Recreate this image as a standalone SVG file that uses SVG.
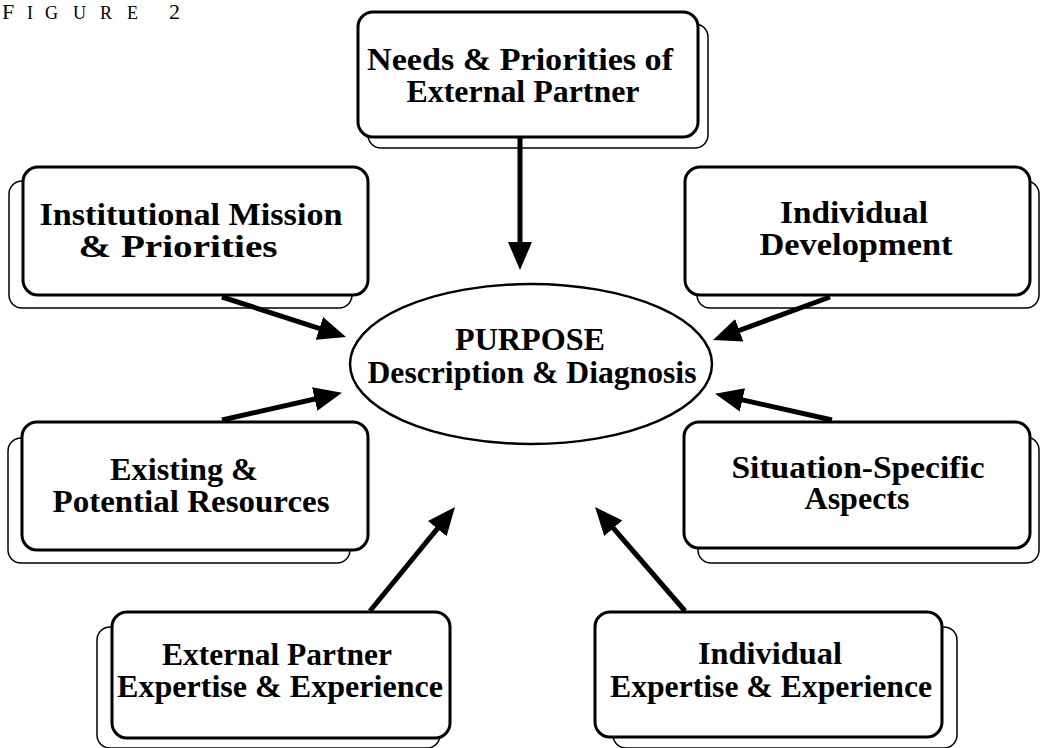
<svg xmlns="http://www.w3.org/2000/svg" width="1040" height="748" viewBox="0 0 1040 748">
<style>
.main{fill:#fff;stroke:#000;stroke-width:3}
.shadow{fill:#fff;stroke:#000;stroke-width:1.5}
.lbl{font-family:"Liberation Serif","Times New Roman",serif;font-weight:bold;font-size:32px;fill:#000;text-anchor:middle}
.elbl{font-size:31px}
.conn{stroke:#000;stroke-width:5;fill:none;marker-end:url(#ah)}
.fig{font-family:"Liberation Serif","Times New Roman",serif;fill:#000}
</style>
<defs>
<marker id="ah" markerUnits="userSpaceOnUse" markerWidth="28" markerHeight="24" refX="16" refY="12" orient="auto">
<path d="M0,0 L28,12 L0,24 Z" fill="#000"/>
</marker>
</defs>
<rect width="1040" height="748" fill="#fff"/>
<text class="fig" y="19"><tspan x="2" font-size="22">F</tspan><tspan x="27" font-size="18">I</tspan><tspan x="45" font-size="18">G</tspan><tspan x="73" font-size="18">U</tspan><tspan x="100" font-size="18">R</tspan><tspan x="127" font-size="18">E</tspan><tspan x="169" font-size="22">2</tspan></text>

<g id="node-needs">
<rect class="shadow" x="368" y="24" width="340" height="124" rx="13"/>
<rect class="main" x="358" y="12" width="340" height="125" rx="15"/>
<text class="lbl" x="520" y="70" textLength="306" lengthAdjust="spacingAndGlyphs">Needs &amp; Priorities of</text>
<text class="lbl" x="523" y="102" textLength="233" lengthAdjust="spacingAndGlyphs">External Partner</text>
</g>
<g id="node-mission">
<rect class="shadow" x="9" y="181" width="343" height="127" rx="13"/>
<rect class="main" x="23" y="167" width="345" height="128" rx="15"/>
<text class="lbl" x="191" y="225" textLength="303" lengthAdjust="spacingAndGlyphs">Institutional Mission</text>
<text class="lbl" x="178" y="257" textLength="199" lengthAdjust="spacingAndGlyphs">&amp; Priorities</text>
</g>
<g id="node-development">
<rect class="shadow" x="697" y="181" width="342" height="127" rx="13"/>
<rect class="main" x="685" y="167" width="345" height="128" rx="15"/>
<text class="lbl" x="854" y="223" textLength="148" lengthAdjust="spacingAndGlyphs">Individual</text>
<text class="lbl" x="856" y="255" textLength="193" lengthAdjust="spacingAndGlyphs">Development</text>
</g>
<g id="node-resources">
<rect class="shadow" x="8" y="438" width="342" height="125" rx="13"/>
<rect class="main" x="22" y="422" width="346" height="128" rx="15"/>
<text class="lbl" x="184" y="480" textLength="148" lengthAdjust="spacingAndGlyphs">Existing &amp;</text>
<text class="lbl" x="191" y="512" textLength="277" lengthAdjust="spacingAndGlyphs">Potential Resources</text>
</g>
<g id="node-situation">
<rect class="shadow" x="698" y="437" width="341" height="126" rx="13"/>
<rect class="main" x="684" y="422" width="346" height="126" rx="15"/>
<text class="lbl" x="858" y="478" textLength="253" lengthAdjust="spacingAndGlyphs">Situation-Specific</text>
<text class="lbl" x="857" y="509" textLength="105" lengthAdjust="spacingAndGlyphs">Aspects</text>
</g>
<g id="node-partner-expertise">
<rect class="shadow" x="97" y="627" width="343" height="121" rx="13"/>
<rect class="main" x="112" y="612" width="338" height="126" rx="15"/>
<text class="lbl" x="277" y="665" textLength="230" lengthAdjust="spacingAndGlyphs">External Partner</text>
<text class="lbl" x="280" y="697" textLength="326" lengthAdjust="spacingAndGlyphs">Expertise &amp; Experience</text>
</g>
<g id="node-individual-expertise">
<rect class="shadow" x="613" y="627" width="344" height="121" rx="13"/>
<rect class="main" x="595" y="612" width="347" height="125" rx="15"/>
<text class="lbl" x="770" y="664" textLength="144" lengthAdjust="spacingAndGlyphs">Individual</text>
<text class="lbl" x="771" y="697" textLength="322" lengthAdjust="spacingAndGlyphs">Expertise &amp; Experience</text>
</g>
<g id="node-purpose">
<ellipse cx="531" cy="364" rx="181" ry="80" fill="#fff" stroke="#000" stroke-width="2.5"/>
<text class="lbl elbl" x="530" y="350" textLength="150" lengthAdjust="spacingAndGlyphs">PURPOSE</text>
<text class="lbl elbl" x="532" y="383" textLength="329" lengthAdjust="spacingAndGlyphs">Description &amp; Diagnosis</text>
</g>

<g id="connectors">
<line class="conn" x1="520" y1="138" x2="520" y2="258"/>
<line class="conn" x1="222" y1="297" x2="334.6" y2="333.3"/>
<line class="conn" x1="222" y1="420" x2="330.3" y2="395.5"/>
<line class="conn" x1="830" y1="297" x2="724.3" y2="335.9"/>
<line class="conn" x1="832" y1="420" x2="726.8" y2="396.4"/>
<line class="conn" x1="370" y1="611" x2="447.4" y2="516.3"/>
<line class="conn" x1="685" y1="611" x2="602.9" y2="516.1"/>
</g>
</svg>
